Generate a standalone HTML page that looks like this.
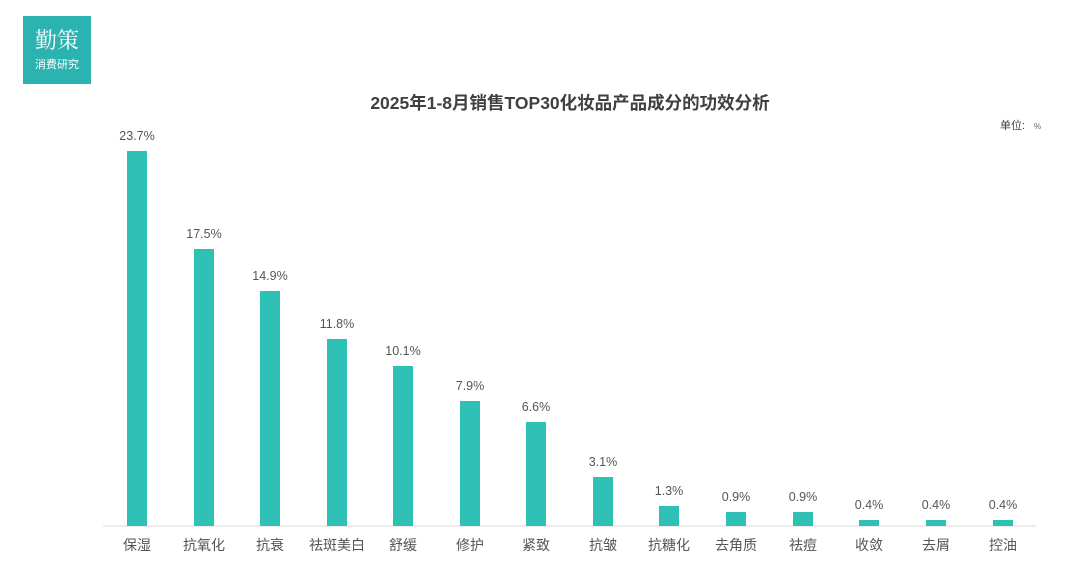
<!DOCTYPE html>
<html><head><meta charset="utf-8"><style>
html,body{margin:0;padding:0;background:#fff;}
svg{display:block;font-family:"Liberation Sans","Noto Sans CJK SC",sans-serif;}
</style></head><body>
<svg width="1080" height="574" viewBox="0 0 1080 574" xmlns="http://www.w3.org/2000/svg">
<rect x="23" y="16" width="68" height="68" fill="#2bb3b1"/>
<text x="57" y="48" text-anchor="middle" font-size="22" fill="#fff" font-family="'Noto Serif CJK SC',serif">勤策</text>
<text x="57" y="68" text-anchor="middle" font-size="11" fill="#fff">消费研究</text>
<text x="570" y="109" text-anchor="middle" font-size="17.5" font-weight="bold" fill="#404040">2025年1-8月销售TOP30化妆品产品成分的功效分析</text>
<text x="1000" y="129" font-size="11" fill="#404040">单位: </text>
<text x="1034" y="129" font-size="8" fill="#666">%</text>
<line x1="103" y1="526" x2="1036" y2="526" stroke="#d9d9d9" stroke-width="1"/>
<g fill="#2fc1b5">
<rect x="127" y="151" width="20" height="375"/>
<rect x="194" y="249" width="20" height="277"/>
<rect x="260" y="291" width="20" height="235"/>
<rect x="327" y="339" width="20" height="187"/>
<rect x="393" y="366" width="20" height="160"/>
<rect x="460" y="401" width="20" height="125"/>
<rect x="526" y="422" width="20" height="104"/>
<rect x="593" y="477" width="20" height="49"/>
<rect x="659" y="506" width="20" height="20"/>
<rect x="726" y="512" width="20" height="14"/>
<rect x="793" y="512" width="20" height="14"/>
<rect x="859" y="520" width="20" height="6"/>
<rect x="926" y="520" width="20" height="6"/>
<rect x="993" y="520" width="20" height="6"/>
</g>
<g font-size="12.5" fill="#555" text-anchor="middle">
<text x="137" y="140">23.7%</text>
<text x="204" y="238">17.5%</text>
<text x="270" y="280">14.9%</text>
<text x="337" y="328">11.8%</text>
<text x="403" y="355">10.1%</text>
<text x="470" y="390">7.9%</text>
<text x="536" y="411">6.6%</text>
<text x="603" y="466">3.1%</text>
<text x="669" y="495">1.3%</text>
<text x="736" y="501">0.9%</text>
<text x="803" y="501">0.9%</text>
<text x="869" y="509">0.4%</text>
<text x="936" y="509">0.4%</text>
<text x="1003" y="509">0.4%</text>
</g>
<g font-size="14" fill="#555" text-anchor="middle">
<text x="137" y="550">保湿</text>
<text x="204" y="550">抗氧化</text>
<text x="270" y="550">抗衰</text>
<text x="337" y="550">祛斑美白</text>
<text x="403" y="550">舒缓</text>
<text x="470" y="550">修护</text>
<text x="536" y="550">紧致</text>
<text x="603" y="550">抗皱</text>
<text x="669" y="550">抗糖化</text>
<text x="736" y="550">去角质</text>
<text x="803" y="550">祛痘</text>
<text x="869" y="550">收敛</text>
<text x="936" y="550">去屑</text>
<text x="1003" y="550">控油</text>
</g>
</svg>
</body></html>
